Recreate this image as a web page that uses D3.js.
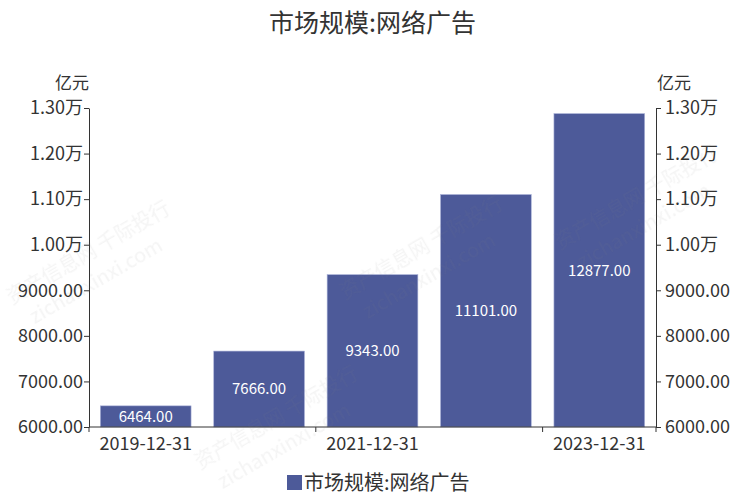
<!DOCTYPE html>
<html>
<head>
<meta charset="utf-8">
<script src="https://cdn.jsdelivr.net/npm/d3@7/dist/d3.min.js"></script>
<style>
body{margin:0;background:#fff;}
svg{display:block;font-family:"Noto Sans CJK SC","Noto Sans",sans-serif;}
</style>
</head>
<body>
<svg id="chart" width="750" height="502"></svg>
<script>
const categories = ["2019-12-31","2020-12-31","2021-12-31","2022-12-31","2023-12-31"];
const values = [6464, 7666, 9343, 11101, 12877];
const yTicks = [6000, 7000, 8000, 9000, 10000, 11000, 12000, 13000];
const xLabelCats = ["2019-12-31","2021-12-31","2023-12-31"];
const seriesName = "市场规模:网络广告";
const title = "市场规模:网络广告";
const unit = "亿元";

const svg = d3.select("#chart");
const W = 750, H = 502;
const m = {left: 89, right: 94, top: 108, bottom: 75};
const x = d3.scaleBand().domain(categories).range([m.left, W - m.right]).paddingInner(0.2).paddingOuter(0.1);
const y = d3.scaleLinear().domain([6000, 13000]).range([H - m.bottom, m.top]);
const fmt = v => v >= 10000 ? (v/10000).toFixed(2) + "万" : v.toFixed(2);
const cx = (m.left + W - m.right) / 2;

// title
svg.append("text").attr("x", cx).attr("y", 32).attr("text-anchor", "middle")
  .attr("font-size", 25).attr("fill", "#333").text(title);

// bars
svg.append("g").selectAll("rect").data(values).join("rect")
  .attr("x", (d,i) => x(categories[i]))
  .attr("y", d => y(d))
  .attr("width", x.bandwidth())
  .attr("height", d => y(6000) - y(d))
  .attr("fill", "#4d5a99")
  .attr("stroke", "#aab2d8").attr("stroke-width", 0.6);

svg.append("g").selectAll("text").data(values).join("text")
  .attr("x", (d,i) => x(categories[i]) + x.bandwidth()/2)
  .attr("y", d => (y(d) + y(6000))/2)
  .attr("dy", "0.35em")
  .attr("text-anchor", "middle").attr("font-size", 15).attr("fill", "#fff")
  .text(d => d.toFixed(2));

// left axis
const gl = svg.append("g").attr("transform", `translate(${m.left},0)`)
  .call(d3.axisLeft(y).tickValues(yTicks).tickFormat(fmt).tickSize(5).tickSizeOuter(0));
// right axis
const gr = svg.append("g").attr("transform", `translate(${W - m.right},0)`)
  .call(d3.axisRight(y).tickValues(yTicks).tickFormat(fmt).tickSize(5).tickSizeOuter(0));
[gl, gr].forEach(g => {
  g.select(".domain").attr("stroke", "#333");
  g.selectAll(".tick line").attr("stroke", "#333");
  g.selectAll(".tick text").attr("font-size", 18).attr("fill", "#333").attr("font-family", "'Noto Sans CJK SC','Noto Sans',sans-serif");
});
gl.selectAll(".tick text").attr("x", -6);
gr.selectAll(".tick text").attr("x", 9);

svg.append("text").attr("x", m.left - 17).attr("y", 89).attr("text-anchor", "middle")
  .attr("font-size", 17).attr("fill", "#333").text(unit);
svg.append("text").attr("x", W - m.right + 18).attr("y", 89).attr("text-anchor", "middle")
  .attr("font-size", 17).attr("fill", "#333").text(unit);

// x axis
const xb = y(6000);
const gx = svg.append("g");
gx.append("line").attr("x1", m.left).attr("x2", W - m.right).attr("y1", xb).attr("y2", xb).attr("stroke", "#333");
const step = x.step();
const tickXs = [0,2,4].map(i => x(categories[i]) - x.paddingInner()*step/2);
tickXs.push(W - m.right);
gx.selectAll("line.t").data(tickXs).join("line").attr("class","t")
  .attr("x1", d => d).attr("x2", d => d).attr("y1", xb).attr("y2", xb + 5).attr("stroke", "#333");
gx.selectAll("text").data(xLabelCats).join("text")
  .attr("x", d => x(d) + x.bandwidth()/2).attr("y", xb + 23)
  .attr("text-anchor", "middle").attr("font-size", 18).attr("fill", "#333").text(d => d);

// legend
const lg = svg.append("g").attr("transform", "translate(287,475)");
lg.append("rect").attr("width", 15).attr("height", 15).attr("fill", "#4d5a99");
lg.append("text").attr("x", 17).attr("y", 7.5).attr("dy", "0.38em").attr("font-size", 20).attr("fill", "#333").text(seriesName);

// watermark (on top, faint)
const wm = svg.append("g").attr("fill", "#888").attr("opacity", 0.09).attr("font-size", 20).style("pointer-events", "none");
const wmPos = [[345,300],[12,305],[560,250],[200,470]];
wmPos.forEach(([px,py]) => {
  const g = wm.append("g").attr("transform", `translate(${px},${py}) rotate(-30)`);
  g.append("text").text("资产信息网 千际投行").attr("x", 0).attr("y", 0);
  g.append("text").text("zichanxinxi.com").attr("x", 10).attr("y", 28);
});
</script>
</body>
</html>
